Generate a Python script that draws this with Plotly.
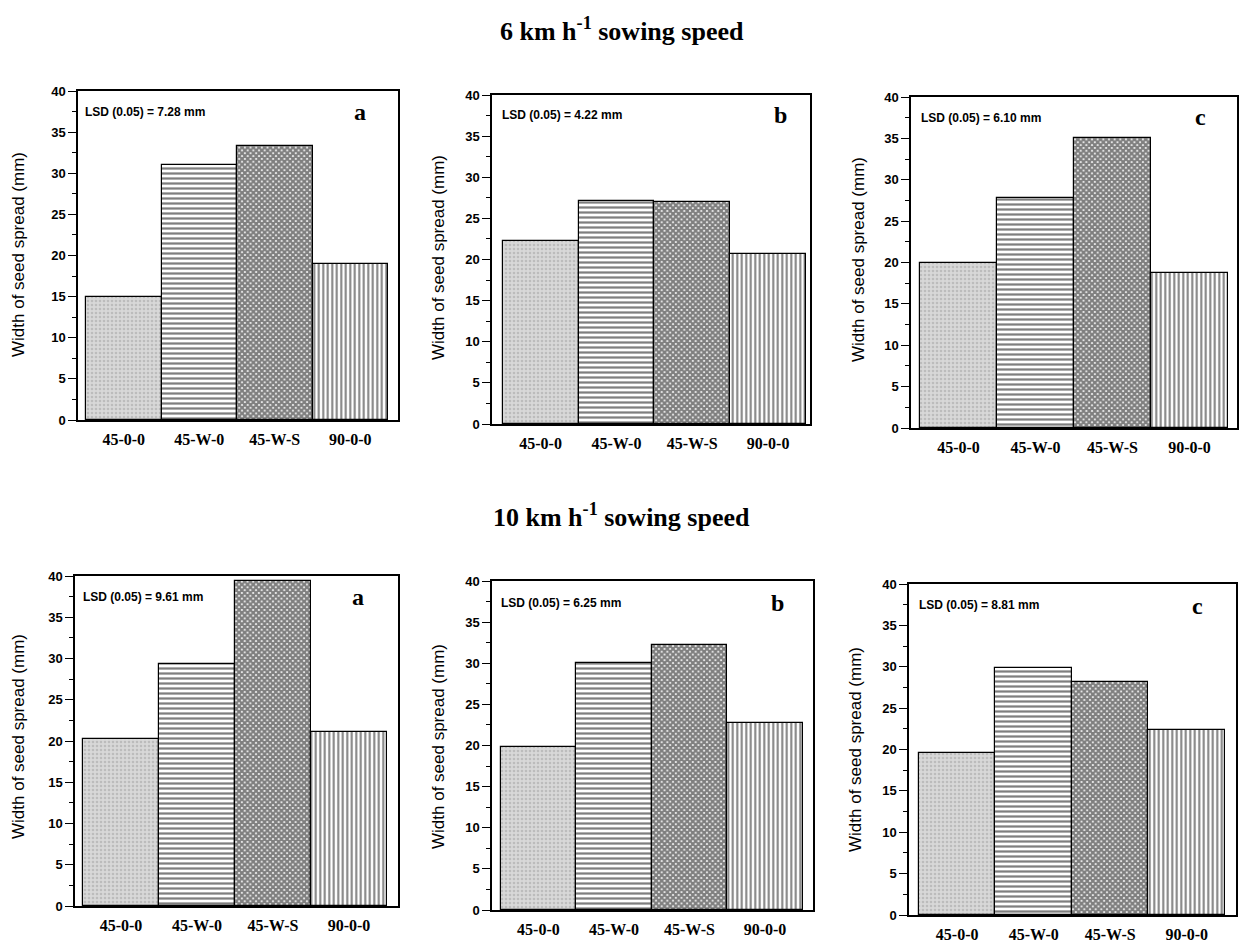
import plotly.graph_objects as go

W, H = 1243, 943

treatments = ["45-0-0", "45-W-0", "45-W-S", "90-0-0"]

# Width of seed spread (mm) at 6 km/h
speed6_a = [15.0, 31.0, 33.3, 19.0]
speed6_b = [22.2, 27.1, 27.0, 20.7]
speed6_c = [20.0, 27.8, 35.0, 18.7]
# Width of seed spread (mm) at 10 km/h
speed10_a = [20.2, 29.3, 39.4, 21.1]
speed10_b = [19.8, 30.0, 32.2, 22.7]
speed10_c = [19.6, 29.8, 28.2, 22.4]

lsd_values = ["7.28", "4.22", "6.10", "9.61", "6.25", "8.81"]
panel_letters = ["a", "b", "c", "a", "b", "c"]
section_titles = ["6 km h<sup>-1</sup> sowing speed", "10 km h<sup>-1</sup> sowing speed"]

series = [speed6_a, speed6_b, speed6_c, speed10_a, speed10_b, speed10_c]

# plot boxes in pixels: left, right, top, bottom, x-range
boxes = [
    (78, 398, 91, 420, (-0.606, 3.632)),
    (492, 810, 95, 424, (-0.641, 3.553)),
    (911, 1237, 97, 428, (-0.617, 3.617)),
    (75, 398, 576, 906, (-0.605, 3.645)),
    (492, 813, 581, 910, (-0.615, 3.636)),
    (909, 1236, 584, 915, (-0.630, 3.644)),
]
ytitle_pos = [(18, 255), (438, 258), (858, 260), (18, 737), (438, 747), (855, 750)]
lsd_pos = [(83, 112), (500, 115), (919, 118), (81, 597), (499, 603), (917, 605)]
letter_pos = [(360, 112), (780, 115), (1200, 117), (358, 597), (777, 603), (1197, 606)]


def px(x):
    return x / W


def py(y):
    return 1 - y / H


fig = go.Figure()

pattern = dict(
    shape=[".", "-", "x", "|"],
    bgcolor=["#d8d8d8", "white", "white", "white"],
    fgcolor=["#a0a0a0", "#000000", "#000000", "#000000"],
    size=[4, 5, 4, 4.5],
    solidity=[0.35, 0.45, 0.8, 0.45],
)

layout = dict(
    width=W, height=H,
    margin=dict(l=0, r=0, t=0, b=0, autoexpand=False),
    paper_bgcolor="white", plot_bgcolor="white",
    showlegend=False,
    bargap=0,
    annotations=[],
)

serif = "Liberation Serif"
sans = "Liberation Sans"

for i, vals in enumerate(series):
    n = "" if i == 0 else str(i + 1)
    x0, x1, yt, yb, xr = boxes[i]
    fig.add_trace(go.Bar(
        x=treatments, y=vals, width=1,
        xaxis="x" + n, yaxis="y" + n,
        marker=dict(color="white", pattern=pattern,
                    line=dict(color="black", width=1.2)),
        hoverinfo="x+y",
    ))
    layout["xaxis" + n] = dict(
        domain=[px(x0), px(x1)], anchor="y" + n, automargin=False,
        type="category", range=list(xr),
        showline=True, linecolor="black", linewidth=1.5, mirror=True,
        ticks="outside", ticklen=4, tickcolor="rgba(0,0,0,0)",
        tickfont=dict(family=serif, size=16, color="black", weight="bold"),
        showgrid=False, zeroline=False, fixedrange=True,
    )
    layout["yaxis" + n] = dict(
        domain=[py(yb), py(yt)], anchor="x" + n, automargin=False,
        range=[0, 40], tickvals=[0, 5, 10, 15, 20, 25, 30, 35, 40],
        ticks="outside", ticklen=8, tickwidth=1.2, tickcolor="black",
        minor=dict(dtick=2.5, ticks="outside", ticklen=4, tickcolor="black", tickwidth=1),
        showline=True, linecolor="black", linewidth=1.5, mirror=True,
        tickfont=dict(family=sans, size=13, color="black", weight="bold"),
        showgrid=False, zeroline=False, fixedrange=True,
    )
    tx, ty = ytitle_pos[i]
    layout["annotations"].append(dict(
        text="Width of seed spread (mm)", x=px(tx), y=py(ty),
        xref="paper", yref="paper", showarrow=False, textangle=-90,
        xanchor="center", yanchor="middle",
        font=dict(family=sans, size=17, color="black"),
    ))
    lx, ly = lsd_pos[i]
    layout["annotations"].append(dict(
        text="LSD (0.05) = %s mm" % lsd_values[i], x=px(lx), y=py(ly),
        xref="paper", yref="paper", showarrow=False,
        xanchor="left", yanchor="middle",
        font=dict(family=sans, size=12, color="black", weight="bold"),
    ))
    cx, cy = letter_pos[i]
    layout["annotations"].append(dict(
        text=panel_letters[i], x=px(cx), y=py(cy),
        xref="paper", yref="paper", showarrow=False,
        xanchor="center", yanchor="middle",
        font=dict(family=serif, size=24, color="black", weight="bold"),
    ))

for title, cy in zip(section_titles, [30, 515]):
    layout["annotations"].append(dict(
        text=title, x=0.5, y=py(cy), xref="paper", yref="paper",
        showarrow=False, xanchor="center", yanchor="middle",
        font=dict(family=serif, size=26, color="black", weight="bold"),
    ))

fig.update_layout(**layout)
fig.write_html("out.html")
